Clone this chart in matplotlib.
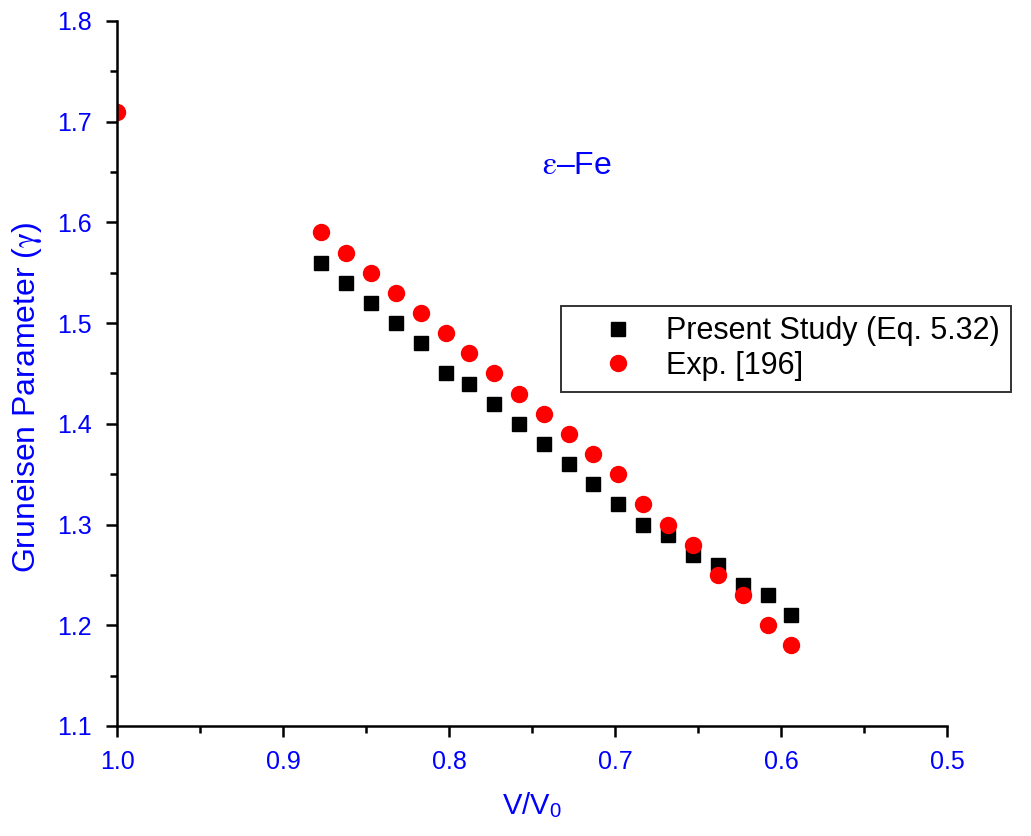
import matplotlib.pyplot as plt
from matplotlib.ticker import MultipleLocator

plt.rcParams['font.family'] = ['Liberation Sans', 'DejaVu Sans']
plt.rcParams['mathtext.fontset'] = 'stix'

# V/V0 values shared by both series
v_ratio = [0.877, 0.862, 0.847, 0.832, 0.817, 0.802, 0.788, 0.773, 0.758, 0.743,
           0.728, 0.713, 0.698, 0.683, 0.668, 0.653, 0.638, 0.623, 0.608, 0.594]
gamma_present = [1.56, 1.54, 1.52, 1.50, 1.48, 1.45, 1.44, 1.42, 1.40, 1.38,
                 1.36, 1.34, 1.32, 1.30, 1.29, 1.27, 1.26, 1.24, 1.23, 1.21]
v_ratio_exp = [1.0] + v_ratio
gamma_exp = [1.71, 1.59, 1.57, 1.55, 1.53, 1.51, 1.49, 1.47, 1.45, 1.43, 1.41,
             1.39, 1.37, 1.35, 1.32, 1.30, 1.28, 1.25, 1.23, 1.20, 1.18]

blue = '#0000ff'

fig = plt.figure(figsize=(10.31, 8.36), dpi=100)
ax = fig.add_axes([0.1135, 0.1316, 0.805, 0.8433])

ax.plot(v_ratio, gamma_present, 's', color='black', markersize=10,
        linestyle='none', label='Present Study (Eq. 5.32)')
ax.plot(v_ratio_exp, gamma_exp, 'o', color='red', markersize=11.5,
        linestyle='none', label='Exp. [196]')

ax.set_xlim(1.0, 0.5)
ax.set_ylim(1.1, 1.8)
ax.xaxis.set_major_locator(MultipleLocator(0.1))
ax.xaxis.set_minor_locator(MultipleLocator(0.05))
ax.yaxis.set_major_locator(MultipleLocator(0.1))
ax.yaxis.set_minor_locator(MultipleLocator(0.05))
ax.xaxis.set_major_formatter(plt.FormatStrFormatter('%.1f'))
ax.yaxis.set_major_formatter(plt.FormatStrFormatter('%.1f'))

for s in ['top', 'right']:
    ax.spines[s].set_visible(False)
for s in ['left', 'bottom']:
    ax.spines[s].set_linewidth(1.8)

ax.tick_params(which='major', direction='out', length=8, width=1.8,
               labelsize=18, labelcolor=blue)
ax.tick_params(axis='y', which='major', pad=10)
ax.tick_params(axis='x', which='major', pad=9)
ax.tick_params(which='minor', direction='out', length=5, width=1.8)

ax.set_xlabel('V/V$_{\\mathregular{0}}$', fontsize=21, color=blue, labelpad=12)
ax.set_ylabel('Gruneisen Parameter ($\\mathrm{\\gamma}$)', fontsize=23, color=blue)
ax.yaxis.set_label_coords(-0.088, 0.466)

ax.text(0.723, 1.656, '$\\mathrm{\\varepsilon}$\u2013Fe', color=blue, fontsize=23,
        ha='center', va='center')

leg = ax.legend(loc='upper left', bbox_to_anchor=(0.535, 0.596), fontsize=22,
                frameon=True, fancybox=False, edgecolor='black',
                handletextpad=0.1, borderpad=0.35, labelspacing=0.15,
                handlelength=3.0, borderaxespad=0)
leg.get_frame().set_linewidth(1.4)

fig.savefig('out.png', dpi=100)
